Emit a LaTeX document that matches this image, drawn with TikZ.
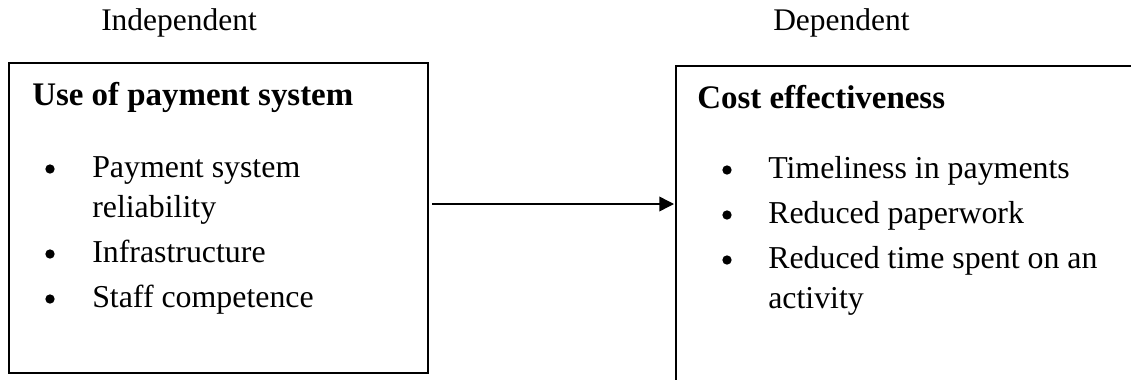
\documentclass[tikz,border=0pt]{standalone}
\usepackage{fontspec}
\setmainfont{Liberation Serif}
\usetikzlibrary{fit,arrows.meta}
\begin{document}
\begin{tikzpicture}[x=0.75pt,y=-0.75pt,
  box/.style={draw=black,line width=1.3pt,inner sep=0pt},
  txt/.style={anchor=base west,inner sep=0pt,font=\fontsize{23.9}{28}\selectfont},
  hdr/.style={anchor=base west,inner sep=0pt,font=\fontsize{23.6}{28}\selectfont},
  ttl/.style={anchor=base west,inner sep=0pt,font=\fontsize{24.7}{28}\selectfont\bfseries},
  bul/.style={circle,fill=black,inner sep=0pt,minimum size=7pt},
  arr/.style={line width=1.1pt,-{Triangle[length=11pt,width=11pt]}}]
\clip (0,0) rectangle (1131,379);
\useasboundingbox (0,0) rectangle (1131,379);
% headers
\node[hdr] (hi) at (101,30) {Independent};
\node[hdr] (hd) at (773,30) {Dependent};
% boxes
\node[box,fit={(9,63) (428,373)}] (lb) {};
\node[box,fit={(676,66) (1150,400)}] (rb) {};
% left content
\node[ttl] (lt) at (32,105) {Use of payment system};
\node[bul] (lb1) at (50,169) {};
\node[txt] (li1) at (92,177) {Payment system};
\node[txt] (li1b) at (92,217) {reliability};
\node[bul] (lb2) at (50,254) {};
\node[txt] (li2) at (92,262) {Infrastructure};
\node[bul] (lb3) at (50,299) {};
\node[txt] (li3) at (92,307) {Staff competence};
% right content
\node[ttl] (rt) at (697,108) {Cost effectiveness};
\node[bul] (rb1) at (727,170) {};
\node[txt] (ri1) at (768,178) {Timeliness in payments};
\node[bul] (rb2) at (727,215) {};
\node[txt] (ri2) at (768,223) {Reduced paperwork};
\node[bul] (rb3) at (727,260) {};
\node[txt] (ri3) at (768,268) {Reduced time spent on an};
\node[txt] (ri3b) at (768,308) {activity};
% arrow
\coordinate (a1) at (432,204);
\coordinate (a2) at (674,204);
\draw[arr] (a1) -- (a2);
\end{tikzpicture}
\end{document}
